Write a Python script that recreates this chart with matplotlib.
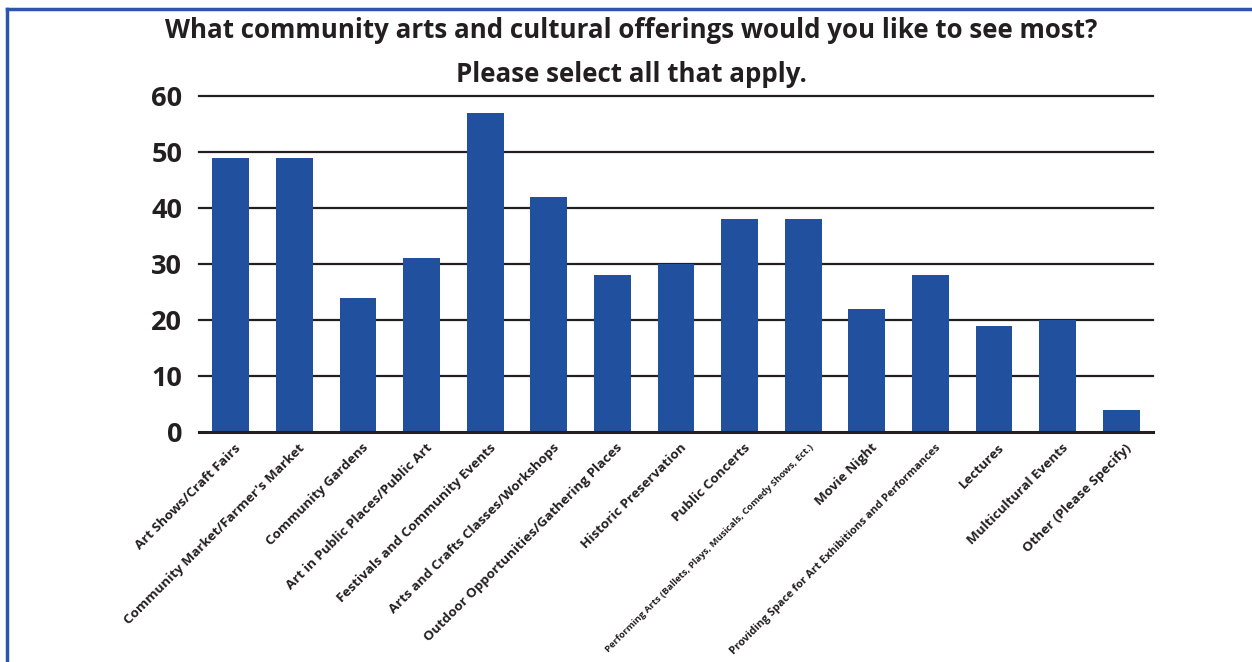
import matplotlib.pyplot as plt
from matplotlib.lines import Line2D

categories = [
    "Art Shows/Craft Fairs",
    "Community Market/Farmer's Market",
    "Community Gardens",
    "Art in Public Places/Public Art",
    "Festivals and Community Events",
    "Arts and Crafts Classes/Workshops",
    "Outdoor Opportunities/Gathering Places",
    "Historic Preservation",
    "Public Concerts",
    "Performing Arts (Ballets, Plays, Musicals, Comedy Shows, Ect.)",
    "Movie Night",
    "Providing Space for Art Exhibitions and Performances",
    "Lectures",
    "Multicultural Events",
    "Other (Please Specify)",
]
values = [49, 49, 24, 31, 57, 42, 28, 30, 38, 38, 22, 28, 19, 20, 4]
label_sizes = [9.7] * len(categories)
label_sizes[9] = 6.8
label_sizes[11] = 7.9
yticks = [0, 10, 20, 30, 40, 50, 60]

bar_color = "#21509e"
border_color = "#2e55ad"
ink = "#231f20"

plt.rcParams['font.family'] = ['Open Sans', 'DejaVu Sans']

fig = plt.figure(figsize=(12.52, 6.62), dpi=100)
ax = fig.add_axes([199 / 1252, 1 - 432 / 662, (1153 - 199) / 1252, (432 - 96) / 662])

x = range(len(categories))
ax.bar(x, values, width=0.58, color=bar_color, zorder=3)

ax.set_xlim(-0.5, len(categories) - 0.5)
ax.set_ylim(0, 60)
ax.set_yticks(yticks)
ax.set_yticklabels([str(t) for t in yticks], fontsize=19.5, fontweight='bold', color=ink)
ax.tick_params(axis='y', length=0, pad=12)

# horizontal grid lines (0 is the thicker baseline)
for t in yticks:
    ax.axhline(t, color=ink, lw=2.2 if t == 0 else 1.6, zorder=1 if t else 4, clip_on=False)

for s in ax.spines.values():
    s.set_visible(False)

ax.set_xticks(list(x))
ax.set_xticklabels([])
ax.tick_params(axis='x', length=0)
for i, (lab, fs) in enumerate(zip(categories, label_sizes)):
    ax.annotate(lab, xy=(i, 0), xycoords=('data', 'axes fraction'),
                xytext=(6, -10), textcoords='offset points',
                rotation=45, rotation_mode='anchor', ha='right', va='center',
                fontsize=fs, fontweight='bold', color=ink)

fig.text(0.504, 1 - 30 / 662, "What community arts and cultural offerings would you like to see most?",
         ha='center', va='center', fontsize=18.6, fontweight='bold', color=ink)
fig.text(0.504, 1 - 74 / 662, "Please select all that apply.",
         ha='center', va='center', fontsize=18.6, fontweight='bold', color=ink)

# blue frame: top and left edges only
fig.add_artist(Line2D([7 / 1252, 1], [1 - 9 / 662, 1 - 9 / 662], color=border_color, lw=2.5,
                      transform=fig.transFigure))
fig.add_artist(Line2D([7 / 1252, 7 / 1252], [0, 1 - 9 / 662], color=border_color, lw=2.5,
                      transform=fig.transFigure))

fig.savefig("out.png", dpi=100)
